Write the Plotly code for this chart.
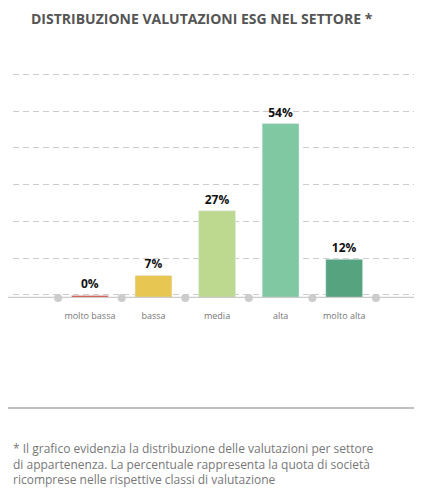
import plotly.graph_objects as go

categories = ["molto bassa", "bassa", "media", "alta", "molto alta"]
values = [0.8, 7, 27, 54, 12]
labels = ["0%", "7%", "27%", "54%", "12%"]
colors = ["#d9453a", "#e8c652", "#bdd88f", "#80c8a2", "#55a37f"]

H = 260  # plot height px

fig = go.Figure()
fig.add_trace(go.Bar(
    x=list(range(5)), y=values, width=0.58, marker_color=colors,
    text=["<b>%s</b>" % t for t in labels], textposition="outside", cliponaxis=False,
    textfont=dict(family="Open Sans", size=12, color="#111")))
fig.add_trace(go.Scatter(
    x=[i - 0.5 for i in range(6)], y=[0] * 6, mode="markers",
    marker=dict(size=8, color="#cccccc"), cliponaxis=False, hoverinfo="skip"))

fig.update_layout(
    width=422, height=491, showlegend=False,
    margin=dict(l=5, r=14, t=30, b=201),
    plot_bgcolor="white", paper_bgcolor="white",
    font=dict(family="Open Sans"),
    xaxis=dict(range=[-1.21, 5.13], tickvals=list(range(5)), ticktext=categories,
               tickfont=dict(size=9, color="#777"), showgrid=False, zeroline=False,
               ticks="outside", ticklen=9, tickcolor="rgba(0,0,0,0)", showline=False),
    yaxis=dict(range=[0, 80.5], dtick=11.37, tick0=1.0, showticklabels=False,
               gridcolor="#cccccc", griddash="6px,4px", gridwidth=1, zeroline=False),
    annotations=[
        dict(text="<b>DISTRIBUZIONE VALUTAZIONI ESG NEL SETTORE *</b>", xref="paper", yref="paper",
             x=0.04, y=1.0 + 20 / H, xanchor="left", yanchor="middle", showarrow=False,
             font=dict(size=14, color="#555")),
        dict(text="* Il grafico evidenzia la distribuzione delle valutazioni per settore<br>"
                  "di appartenenza. La percentuale rappresenta la quota di società<br>"
                  "ricomprese nelle rispettive classi di valutazione",
             xref="paper", yref="paper", x=-0.005, y=-140 / H, xanchor="left",
             yanchor="top", align="left", showarrow=False,
             font=dict(size=12, color="#777")),
    ],
    shapes=[
        dict(type="line", xref="paper", yref="y", x0=-0.05, x1=1.0, y0=0, y1=0,
             line=dict(color="#cccccc", width=2.5)),
        dict(type="line", xref="paper", yref="paper", x0=-0.02, x1=1.04,
             y0=-110 / H, y1=-110 / H, line=dict(color="#aaaaaa", width=1.5)),
    ],
)
fig.write_html("out.html")
